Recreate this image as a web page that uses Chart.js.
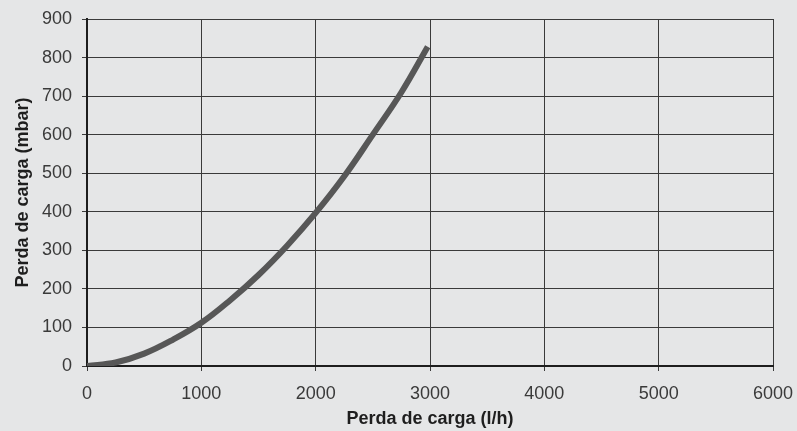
<!DOCTYPE html>
<html>
<head>
<meta charset="utf-8">
<script src="https://cdn.jsdelivr.net/npm/chart.js@4/dist/chart.umd.min.js"></script>
<style>
  html, body { margin: 0; padding: 0; background: #e5e6e7; }
  #wrap { width: 797px; height: 431px; }
</style>
</head>
<body>
<div id="wrap"><canvas id="curve" width="797" height="431"></canvas></div>
<script>
// flow (l/h) and pressure loss (mbar)
const flow = [0, 250, 500, 750, 1000, 1250, 1500, 1750, 2000, 2250, 2500, 2750, 2980];
const loss = [0, 9, 32, 68, 112, 170, 236, 312, 397, 492, 600, 710, 828];

const xTicks = [0, 1000, 2000, 3000, 4000, 5000, 6000];
const yTicks = [0, 100, 200, 300, 400, 500, 600, 700, 800, 900];

const xTitle = 'Perda de carga (l/h)';
const yTitle = 'Perda de carga (mbar)';

const points = flow.map((q, i) => ({ x: q, y: loss[i] }));

const tickFont = { family: 'Liberation Sans, Arial, sans-serif', size: 18 };
const titleFont = { family: 'Liberation Sans, Arial, sans-serif', size: 18, weight: 'bold' };

new Chart(document.getElementById('curve'), {
    type: 'line',
    data: {
        datasets: [{
            data: points,
            borderColor: '#575757',
            borderWidth: 6,
            borderCapStyle: 'butt',
            pointRadius: 0,
            tension: 0.4,
            fill: false
        }]
    },
    options: {
        responsive: false,
        animation: false,
        layout: { padding: { top: 19, right: 24, left: 0, bottom: 0 } },
        plugins: {
            legend: { display: false },
            tooltip: { enabled: false }
        },
        scales: {
            x: {
                type: 'linear',
                min: 0,
                max: 6000,
                afterBuildTicks: (scale) => { scale.ticks = xTicks.map(v => ({ value: v })); },
                afterFit: (scale) => {
                    scale.height = 65;
                    scale.paddingLeft = 0;
                    scale.paddingRight = 0;
                },
                ticks: {
                    font: tickFont, color: '#3a3a3a', padding: 12, maxRotation: 0,
                    callback: (v) => String(v)
                },
                grid: { color: '#3a3a3a', lineWidth: 1, tickLength: 5 },
                border: { color: '#1e1e1e', width: 2 },
                title: {
                    display: true,
                    text: xTitle,
                    font: titleFont,
                    color: '#1e1e1e',
                    padding: { top: 0, bottom: 1 }
                }
            },
            y: {
                min: 0,
                max: 900,
                afterBuildTicks: (scale) => { scale.ticks = yTicks.map(v => ({ value: v })); },
                afterFit: (scale) => {
                    scale.width = 87;
                    scale.paddingTop = 0;
                    scale.paddingBottom = 0;
                },
                ticks: {
                    font: tickFont, color: '#3a3a3a', padding: 10,
                    callback: (v) => String(v)
                },
                grid: { color: '#3a3a3a', lineWidth: 1, tickLength: 5 },
                border: { color: '#1e1e1e', width: 2 },
                title: {
                    display: true,
                    text: yTitle,
                    font: titleFont,
                    color: '#1e1e1e',
                    padding: { top: 12, bottom: 0 }
                }
            }
        }
    }
});
</script>
</body>
</html>
